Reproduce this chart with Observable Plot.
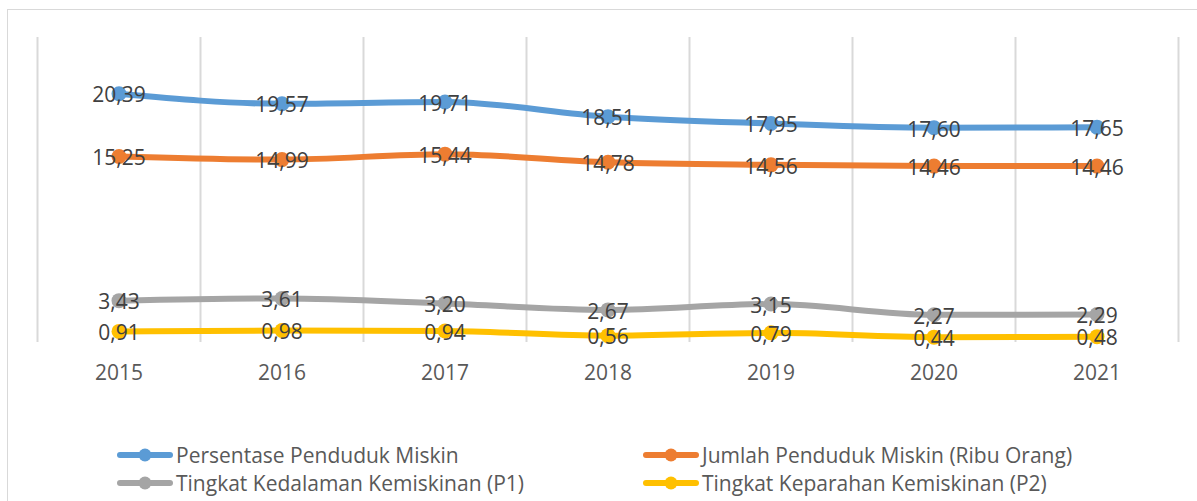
<!DOCTYPE html>
<html>
<head>
<meta charset="utf-8">
<script src="https://cdn.jsdelivr.net/npm/d3@7"></script>
<script src="https://cdn.jsdelivr.net/npm/@observablehq/plot@0.6"></script>
<style>
  html, body { margin: 0; padding: 0; background: #fff; }
  body { width: 1197px; height: 501px; position: relative; overflow: hidden; font-family: "Open Sans", sans-serif; }
  #frame { position: absolute; left: 7px; top: 9px; width: 1200px; height: 500px; border-left: 1.5px solid #d9d9d9; border-top: 1.5px solid #d9d9d9; }
  #chart { position: absolute; left: 0; top: 0; }
  .legend { position: absolute; font-size: 21px; color: #595959; }
  .item { position: absolute; display: flex; align-items: center; white-space: nowrap; height: 28px; }
  .item svg { margin-right: 3px; }
</style>
</head>
<body>
<div id="frame"></div>
<div id="chart"></div>
<div class="legend" id="legend"></div>
<script>
const years = [2015, 2016, 2017, 2018, 2019, 2020, 2021];
const persentase = [20.39, 19.57, 19.71, 18.51, 17.95, 17.60, 17.65];
const jumlah = [15.25, 14.99, 15.44, 14.78, 14.56, 14.46, 14.46];
const p1 = [3.43, 3.61, 3.20, 2.67, 3.15, 2.27, 2.29];
const p2 = [0.91, 0.98, 0.94, 0.56, 0.79, 0.44, 0.48];
const seriesNames = [
  "Persentase Penduduk Miskin",
  "Jumlah Penduduk Miskin (Ribu Orang)",
  "Tingkat Kedalaman Kemiskinan (P1)",
  "Tingkat Keparahan Kemiskinan (P2)"
];
const seriesColors = ["#5b9bd5", "#ed7d31", "#a5a5a5", "#ffc000"];
const seriesValues = [persentase, jumlah, p1, p2];

const data = [];
seriesValues.forEach((vals, i) => {
  vals.forEach((v, j) => data.push({series: seriesNames[i], year: years[j], value: v}));
});
const boundaries = years.map(y => y - 0.5).concat([years[years.length - 1] + 0.5]);
const fmt = v => v.toFixed(2).replace(".", ",");

const chart = Plot.plot({
  width: 1197,
  height: 410,
  marginTop: 37,
  marginBottom: 68,
  marginLeft: 37,
  marginRight: 19,
  style: {fontFamily: "Open Sans, sans-serif", background: "transparent"},
  x: {domain: [boundaries[0], boundaries[boundaries.length - 1]], axis: null},
  y: {domain: [0, 25], axis: null},
  color: {domain: seriesNames, range: seriesColors},
  marks: [
    Plot.ruleX(boundaries, {stroke: "#d9d9d9", strokeWidth: 2}),
    Plot.axisX(years, {tickSize: 0, tickPadding: 23, tickFormat: d => String(d), fontSize: 21, fill: "#595959", stroke: null, label: null}),
    Plot.line(data, {x: "year", y: "value", z: "series", stroke: "series", strokeWidth: 6, curve: "monotone-x"}),
    Plot.dot(data, {x: "year", y: "value", fill: "series", r: 7.5}),
    Plot.text(data, {x: "year", y: "value", text: d => fmt(d.value), fontSize: 21, fill: "#404040", dy: 2})
  ]
});
document.getElementById("chart").appendChild(chart);

const legend = document.getElementById("legend");
const positions = [[117, 441], [643, 441], [117, 469], [643, 469]];
seriesNames.forEach((name, i) => {
  const item = document.createElement("div");
  item.className = "item";
  item.style.left = positions[i][0] + "px";
  item.style.top = positions[i][1] + "px";
  const c = seriesColors[i];
  item.innerHTML = `<svg width="56" height="16"><line x1="3" y1="8" x2="53" y2="8" stroke="${c}" stroke-width="6" stroke-linecap="round"/><circle cx="28" cy="8" r="6.5" fill="${c}"/></svg><span>${name}</span>`;
  legend.appendChild(item);
});
</script>
</body>
</html>
